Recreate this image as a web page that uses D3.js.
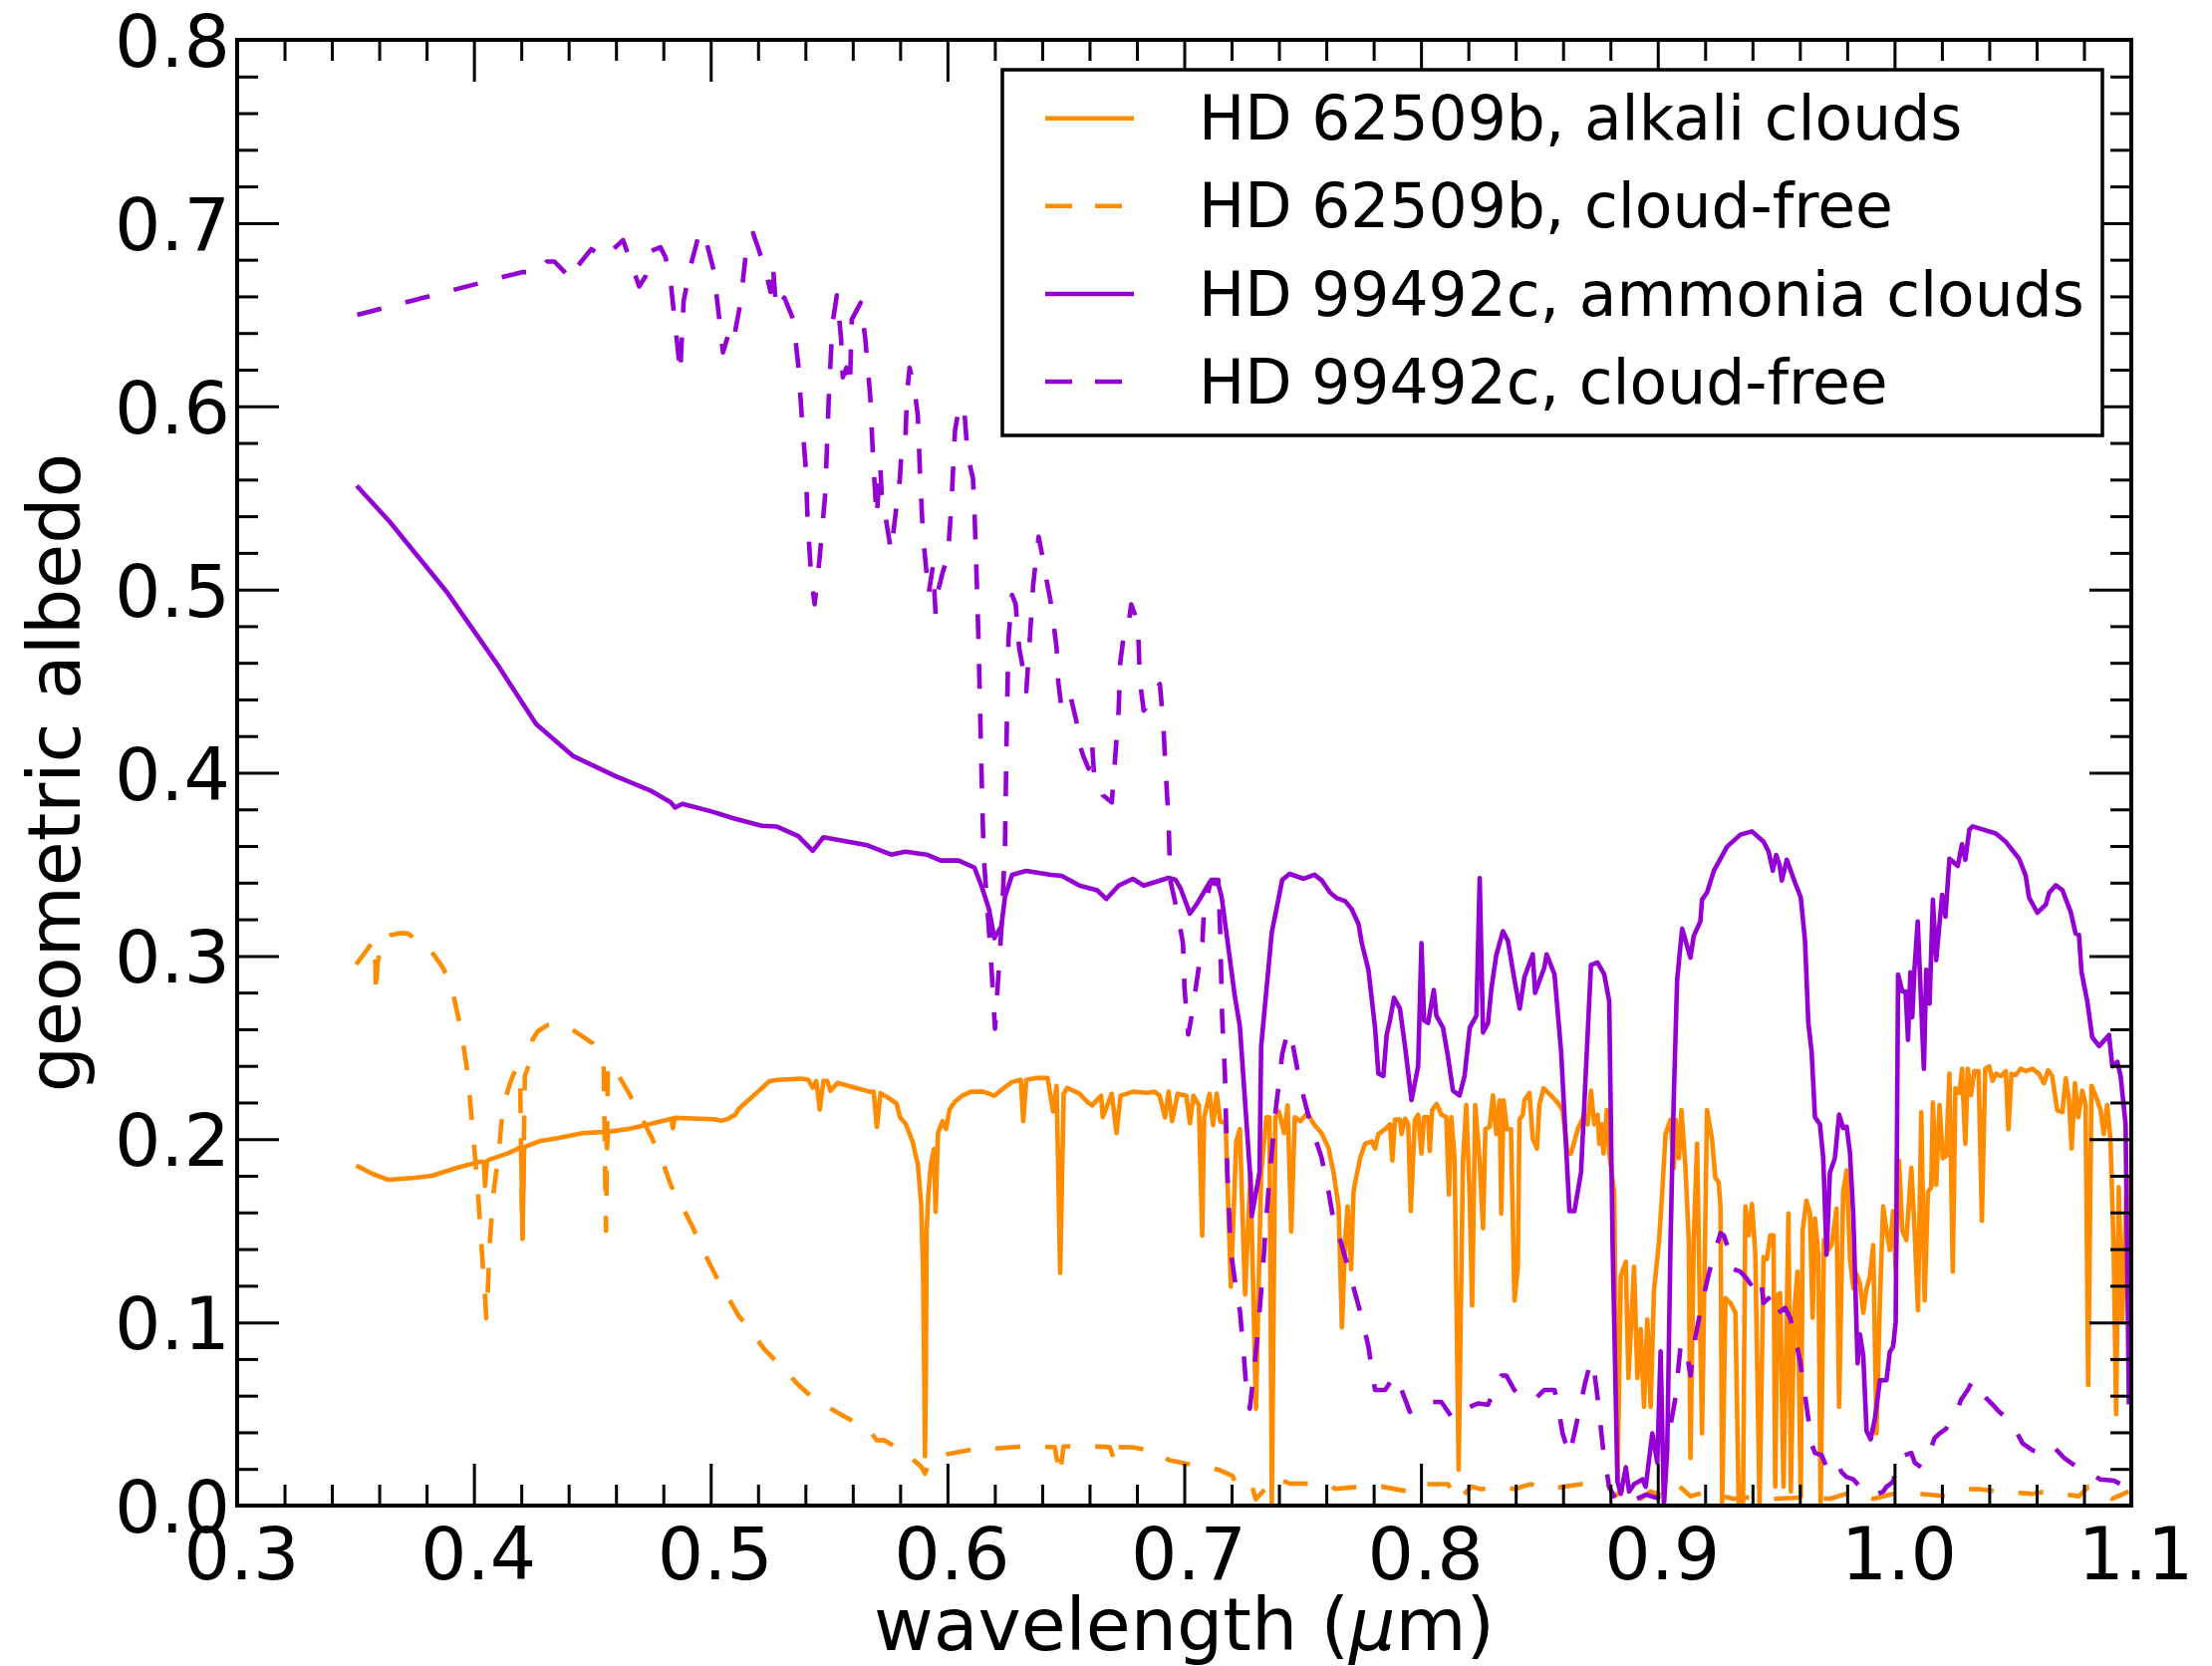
<!DOCTYPE html>
<html><head><meta charset="utf-8">
<script src="https://cdn.jsdelivr.net/npm/d3@7"></script>
<style>
body{margin:0;background:#fff}
svg{display:block}
text{font-family:"DejaVu Sans",sans-serif;fill:#000}
</style>
</head><body>
<svg id="chart" width="2220" height="1672"></svg>
<script>
// ---------------- data ----------------
const xTickLabels = [0.3,0.4,0.5,0.6,0.7,0.8,0.9,1.0,1.1];
const yTickLabels = [0.0,0.1,0.2,0.3,0.4,0.5,0.6,0.7,0.8];
const seriesLabels = ["HD 62509b, alkali clouds","HD 62509b, cloud-free","HD 99492c, ammonia clouds","HD 99492c, cloud-free"];
const seriesColors = ["#ff8c00","#ff8c00","#9400d3","#9400d3"];
const seriesDashed = [false,true,false,true];

// [wavelength (um), geometric albedo]
const hd62509bAlkali = [[0.3503,0.1856],[0.3571,0.1811],[0.3639,0.1778],[0.3752,0.1789],[0.3822,0.18],[0.3932,0.1845],[0.4029,0.1878],[0.4042,0.1875],[0.4047,0.1745],[0.4055,0.188],[0.4067,0.1889],[0.4142,0.1922],[0.42,0.1956],[0.4205,0.1456],[0.4212,0.1956],[0.4233,0.1967],[0.4277,0.1989],[0.4353,0.2006],[0.4458,0.2033],[0.4558,0.204],[0.4562,0.195],[0.4567,0.204],[0.4653,0.2056],[0.4728,0.2078],[0.4835,0.2112],[0.484,0.206],[0.4848,0.2116],[0.4923,0.2113],[0.5014,0.2109],[0.5044,0.21],[0.5074,0.2111],[0.5104,0.2133],[0.5119,0.2166],[0.5247,0.2315],[0.5281,0.2323],[0.5344,0.2328],[0.5386,0.233],[0.5413,0.2323],[0.5431,0.228],[0.5446,0.2318],[0.5461,0.2162],[0.5476,0.2318],[0.5492,0.2318],[0.5506,0.2264],[0.5536,0.2307],[0.5581,0.2291],[0.5672,0.2259],[0.5688,0.2259],[0.5702,0.2066],[0.5717,0.2251],[0.5762,0.2216],[0.5785,0.2194],[0.58,0.2118],[0.5822,0.2087],[0.5852,0.199],[0.5875,0.1861],[0.5889,0.1646],[0.5897,0.1281],[0.5902,0.0743],[0.5905,0.027],[0.5909,0.0743],[0.5912,0.1496],[0.592,0.1711],[0.593,0.186],[0.5943,0.1947],[0.595,0.1603],[0.596,0.2033],[0.5979,0.2098],[0.5994,0.2055],[0.6009,0.2162],[0.6032,0.2205],[0.6062,0.2237],[0.61,0.2259],[0.6152,0.2259],[0.6198,0.2237],[0.6228,0.2269],[0.6273,0.2312],[0.631,0.2323],[0.632,0.2098],[0.6333,0.2323],[0.6378,0.2334],[0.6423,0.2334],[0.6446,0.2151],[0.6461,0.229],[0.6476,0.127],[0.6491,0.2248],[0.6506,0.228],[0.6558,0.2248],[0.6589,0.2205],[0.6611,0.2184],[0.6649,0.2237],[0.6656,0.212],[0.6694,0.2248],[0.6714,0.2033],[0.6731,0.2237],[0.6783,0.2259],[0.6844,0.2253],[0.6874,0.2259],[0.6896,0.2237],[0.6919,0.2118],[0.6934,0.2259],[0.6949,0.2098],[0.6972,0.2248],[0.7009,0.2237],[0.7024,0.2087],[0.7039,0.2237],[0.7062,0.2184],[0.7076,0.1474],[0.7084,0.212],[0.7107,0.2248],[0.7122,0.2077],[0.7137,0.2248],[0.7152,0.2098],[0.7175,0.2087],[0.7197,0.1195],[0.722,0.199],[0.7235,0.2055],[0.7257,0.1152],[0.728,0.1818],[0.7303,0.0529],[0.7325,0.1818],[0.7347,0.212],[0.736,0.212],[0.737,0.0],[0.7385,0.2118],[0.74,0.215],[0.7422,0.2033],[0.7437,0.2184],[0.7452,0.1496],[0.7467,0.212],[0.749,0.2098],[0.752,0.2141],[0.755,0.2077],[0.758,0.2033],[0.761,0.1949],[0.7631,0.1817],[0.7652,0.1633],[0.7666,0.0973],[0.768,0.1449],[0.769,0.1633],[0.7705,0.129],[0.7715,0.1711],[0.7722,0.1764],[0.7743,0.1896],[0.7764,0.1975],[0.7792,0.1988],[0.7806,0.1949],[0.782,0.2028],[0.7848,0.2054],[0.7869,0.2081],[0.7879,0.1883],[0.789,0.2107],[0.7911,0.2107],[0.7918,0.2028],[0.7933,0.2112],[0.7946,0.2081],[0.7957,0.1607],[0.7974,0.2107],[0.7988,0.2133],[0.8002,0.1922],[0.8013,0.212],[0.803,0.212],[0.8037,0.1935],[0.8047,0.2159],[0.8066,0.2192],[0.8086,0.2133],[0.8107,0.212],[0.8118,0.1698],[0.8128,0.212],[0.8142,0.1896],[0.8159,0.0196],[0.8177,0.187],[0.8191,0.2186],[0.8205,0.1711],[0.8216,0.1092],[0.8229,0.2186],[0.8247,0.1896],[0.8262,0.1514],[0.8272,0.2054],[0.829,0.2068],[0.8304,0.2239],[0.8318,0.2028],[0.8332,0.2212],[0.8339,0.1594],[0.8349,0.2212],[0.8363,0.2054],[0.838,0.2054],[0.8395,0.1119],[0.8409,0.1304],[0.8416,0.2107],[0.843,0.2133],[0.8437,0.2212],[0.8458,0.2252],[0.8472,0.2001],[0.849,0.1949],[0.85,0.2186],[0.8518,0.2278],[0.8549,0.2239],[0.8577,0.2199],[0.8598,0.2159],[0.8619,0.1922],[0.8634,0.1922],[0.8662,0.2054],[0.869,0.2133],[0.8704,0.2081],[0.8718,0.2265],[0.8732,0.2081],[0.8746,0.2133],[0.8753,0.1975],[0.8763,0.2081],[0.8771,0.1922],[0.8785,0.2159],[0.8795,0.1922],[0.8816,0.1711],[0.883,0.0131],[0.8844,0.1252],[0.8865,0.1331],[0.8876,0.0697],[0.89,0.1304],[0.8914,0.0697],[0.8928,0.0963],[0.8942,0.0539],[0.8956,0.1016],[0.897,0.0539],[0.8984,0.1173],[0.9005,0.1436],[0.9019,0.1711],[0.9033,0.2028],[0.9054,0.2107],[0.9068,0.1843],[0.9075,0.2107],[0.9089,0.1896],[0.91,0.2159],[0.9117,0.1843],[0.9131,0.1449],[0.9138,0.026],[0.9152,0.1449],[0.9166,0.1975],[0.9187,0.0394],[0.9208,0.2159],[0.9229,0.2001],[0.9243,0.1791],[0.9257,0.1764],[0.9265,0.1633],[0.9272,0.0],[0.9286,0.1132],[0.9307,0.1106],[0.9328,0.1053],[0.9342,0.0],[0.936,0.0],[0.937,0.1633],[0.9384,0.1475],[0.9398,0.1646],[0.9412,0.1371],[0.943,0.0],[0.9447,0.1357],[0.9461,0.1345],[0.9475,0.1475],[0.9489,0.1475],[0.9496,0.0103],[0.9506,0.1147],[0.9517,0.116],[0.9531,0.0103],[0.9545,0.1053],[0.9552,0.1594],[0.9562,0.0077],[0.9576,0.1053],[0.959,0.1277],[0.9604,0.0051],[0.9612,0.1501],[0.9628,0.1664],[0.9643,0.1594],[0.9654,0.1026],[0.9664,0.1567],[0.9678,0.1371],[0.9688,0.0],[0.9702,0.1449],[0.972,0.1395],[0.9734,0.1422],[0.9755,0.162],[0.9766,0.0539],[0.9783,0.1711],[0.9798,0.183],[0.9812,0.1345],[0.9826,0.1186],[0.984,0.1264],[0.9854,0.1212],[0.9868,0.1053],[0.9882,0.1186],[0.9896,0.125],[0.991,0.1422],[0.9924,0.0394],[0.9938,0.1106],[0.9952,0.1633],[0.9966,0.1501],[0.998,0.1395],[0.9994,0.1607],[1.0005,0.129],[1.0019,0.1883],[1.0033,0.1501],[1.005,0.1449],[1.0071,0.1843],[1.0085,0.1501],[1.0099,0.1066],[1.0113,0.2147],[1.0127,0.1119],[1.0141,0.1711],[1.0155,0.1738],[1.0162,0.2199],[1.0176,0.1751],[1.019,0.2186],[1.0204,0.1896],[1.0218,0.1909],[1.0232,0.2357],[1.0246,0.1277],[1.0257,0.2278],[1.0274,0.2252],[1.0285,0.2384],[1.0299,0.1975],[1.0309,0.2384],[1.0323,0.2239],[1.0337,0.2371],[1.0355,0.2371],[1.0369,0.1554],[1.0383,0.2384],[1.04,0.2397],[1.0414,0.2318],[1.0428,0.2357],[1.0449,0.2344],[1.047,0.2371],[1.0481,0.2054],[1.0494,0.2357],[1.0512,0.235],[1.0533,0.2384],[1.0554,0.2371],[1.0582,0.2384],[1.061,0.2357],[1.0631,0.2305],[1.0649,0.2376],[1.0666,0.2344],[1.0687,0.2159],[1.0709,0.2147],[1.0723,0.2331],[1.0737,0.2212],[1.0748,0.1949],[1.0762,0.2305],[1.0776,0.212],[1.0793,0.2265],[1.0807,0.2186],[1.0818,0.0658],[1.0832,0.2291],[1.0849,0.2239],[1.087,0.2159],[1.0884,0.2028],[1.0898,0.2186],[1.0912,0.2001],[1.0926,0.1371],[1.0936,0.0499],[1.0947,0.1738],[1.0961,0.1001],[1.0982,0.1791],[1.0996,0.1395]];

const hd62509bCloudFree = [[0.3503,0.2954],[0.3541,0.3021],[0.3579,0.3087],[0.3584,0.2954],[0.3587,0.2788],[0.3592,0.2954],[0.3616,0.3099],[0.3646,0.3114],[0.3691,0.3125],[0.3721,0.3122],[0.3811,0.3043],[0.3871,0.2932],[0.3902,0.2832],[0.3917,0.2766],[0.3947,0.2589],[0.397,0.2389],[0.3984,0.2211],[0.3999,0.1989],[0.4014,0.1767],[0.4029,0.1478],[0.4037,0.1323],[0.4047,0.1145],[0.4052,0.1023],[0.406,0.1213],[0.4067,0.1434],[0.4082,0.17],[0.4105,0.1922],[0.412,0.2144],[0.4135,0.2233],[0.4157,0.2322],[0.4179,0.2389],[0.4195,0.2344],[0.4205,0.1456],[0.4215,0.2344],[0.4233,0.241],[0.4248,0.2544],[0.427,0.2589],[0.4308,0.2621],[0.4353,0.2628],[0.4413,0.26],[0.4465,0.2555],[0.4502,0.2522],[0.4548,0.241],[0.4558,0.15],[0.4566,0.241],[0.4607,0.2355],[0.4653,0.2255],[0.4698,0.2144],[0.475,0.2011],[0.4803,0.1856],[0.4833,0.1745],[0.4879,0.1634],[0.4923,0.1523],[0.4969,0.139],[0.5021,0.1256],[0.5059,0.1168],[0.5119,0.1034],[0.5164,0.0968],[0.5224,0.0857],[0.5292,0.0768],[0.5371,0.0658],[0.5446,0.0571],[0.5507,0.0529],[0.5581,0.0475],[0.5672,0.041],[0.5701,0.0356],[0.5731,0.0357],[0.5822,0.0292],[0.5857,0.0249],[0.5889,0.0212],[0.5905,0.0174],[0.5925,0.0239],[0.5947,0.0261],[0.6002,0.0281],[0.6093,0.0303],[0.6213,0.0313],[0.6333,0.0324],[0.6453,0.0319],[0.6475,0.0163],[0.649,0.0322],[0.6528,0.0324],[0.6611,0.0324],[0.6686,0.0319],[0.6709,0.0228],[0.672,0.0319],[0.6783,0.0318],[0.6889,0.0292],[0.6934,0.0249],[0.7009,0.0229],[0.7084,0.0212],[0.7144,0.0196],[0.7204,0.0163],[0.722,0.0109],[0.7284,0.012],[0.7302,0.0034],[0.7385,0.0152],[0.7445,0.012],[0.755,0.012],[0.762,0.0109],[0.7637,0.0091],[0.7749,0.0104],[0.7833,0.0104],[0.7946,0.0077],[0.7974,0.0117],[0.8114,0.0117],[0.8156,0.0024],[0.8212,0.0104],[0.8254,0.009],[0.8339,0.0104],[0.8394,0.009],[0.8464,0.0117],[0.8535,0.009],[0.8676,0.0117],[0.8788,0.0117],[0.8816,0.0051],[0.8858,0.009],[0.89,0.0011],[0.897,0.0077],[0.9026,0.0051],[0.9082,0.0117],[0.9138,0.0051],[0.9208,0.0077],[0.9237,0.0064],[0.932,0.0037],[0.9377,0.0045],[0.9489,0.0037],[0.9629,0.0045],[0.9727,0.0037],[0.9826,0.0077],[0.991,0.0037],[0.9994,0.0064],[1.0106,0.0064],[1.0218,0.0051],[1.0302,0.009],[1.0358,0.009],[1.0442,0.0077],[1.0582,0.0064],[1.0639,0.0077],[1.0779,0.0051],[1.0819,0.0103],[1.0919,0.0037],[1.099,0.0077]];

const hd99492cAmmonia = [[0.3505,0.5566],[0.3643,0.5372],[0.3887,0.4984],[0.4097,0.4595],[0.4263,0.4265],[0.442,0.409],[0.46,0.398],[0.475,0.39],[0.483,0.384],[0.485,0.381],[0.488,0.383],[0.5,0.379],[0.51,0.375],[0.5216,0.371],[0.528,0.3706],[0.537,0.3654],[0.5431,0.3574],[0.5476,0.3648],[0.5656,0.3606],[0.5762,0.3553],[0.5822,0.3569],[0.5912,0.3553],[0.5972,0.3521],[0.6047,0.3521],[0.6114,0.3482],[0.6145,0.3377],[0.6175,0.3258],[0.6198,0.3097],[0.6228,0.3162],[0.6243,0.3323],[0.6273,0.3443],[0.6333,0.3464],[0.6438,0.3443],[0.6483,0.3437],[0.6558,0.3384],[0.6633,0.3358],[0.6671,0.3311],[0.6723,0.3384],[0.6783,0.3421],[0.6829,0.3384],[0.6934,0.3426],[0.6964,0.3415],[0.6986,0.3364],[0.7024,0.3231],[0.7054,0.3285],[0.7108,0.3403],[0.7144,0.339],[0.7158,0.3323],[0.7213,0.2786],[0.7235,0.2616],[0.728,0.1775],[0.7285,0.158],[0.7318,0.1818],[0.7325,0.2507],[0.737,0.3129],[0.74,0.3323],[0.7414,0.3415],[0.7445,0.3448],[0.7505,0.3421],[0.755,0.3443],[0.7581,0.3412],[0.7616,0.3346],[0.7645,0.3315],[0.768,0.3299],[0.7708,0.3254],[0.7736,0.3175],[0.775,0.307],[0.7778,0.2924],[0.7806,0.2608],[0.782,0.2358],[0.7841,0.2345],[0.7855,0.2569],[0.7869,0.2648],[0.7886,0.2772],[0.7911,0.2713],[0.7933,0.2503],[0.796,0.2213],[0.7988,0.2398],[0.8002,0.307],[0.8013,0.2648],[0.803,0.2634],[0.8054,0.2814],[0.8065,0.2674],[0.8093,0.2608],[0.8114,0.245],[0.8135,0.2265],[0.8163,0.2239],[0.8184,0.2344],[0.8206,0.2608],[0.8234,0.2674],[0.8248,0.3425],[0.8262,0.2582],[0.8283,0.2634],[0.8297,0.2819],[0.8318,0.3004],[0.8346,0.3135],[0.8367,0.3083],[0.8391,0.2899],[0.84,0.2833],[0.8417,0.2713],[0.8437,0.2885],[0.8472,0.3009],[0.8482,0.2798],[0.8521,0.2937],[0.8531,0.3009],[0.8564,0.2899],[0.8592,0.2476],[0.8627,0.1607],[0.8648,0.1607],[0.8676,0.1818],[0.8718,0.2951],[0.8746,0.2964],[0.8774,0.2899],[0.8795,0.2753],[0.8809,0.1448],[0.883,0.0131],[0.8844,0.0064],[0.8865,0.0209],[0.8879,0.0077],[0.89,0.0117],[0.8935,0.0143],[0.8949,0.0103],[0.8977,0.0394],[0.8998,0.0235],[0.9012,0.0842],[0.9026,0.0],[0.904,0.03],[0.9054,0.1448],[0.9068,0.224],[0.9082,0.2872],[0.9103,0.3149],[0.9138,0.2991],[0.9152,0.3109],[0.918,0.3188],[0.9187,0.3307],[0.9208,0.3345],[0.9237,0.3465],[0.9293,0.3597],[0.9349,0.3662],[0.9398,0.368],[0.9447,0.3623],[0.9468,0.357],[0.9486,0.3465],[0.95,0.3551],[0.9514,0.35],[0.9524,0.3412],[0.9545,0.3525],[0.958,0.3399],[0.9604,0.332],[0.9622,0.3083],[0.9636,0.2634],[0.965,0.2476],[0.9664,0.212],[0.9685,0.2081],[0.9699,0.1896],[0.9713,0.1369],[0.9727,0.1817],[0.9748,0.1896],[0.9766,0.2134],[0.9783,0.2061],[0.9798,0.2068],[0.9812,0.1922],[0.9826,0.158],[0.9844,0.0776],[0.9854,0.0934],[0.9868,0.0816],[0.9882,0.0407],[0.9899,0.0362],[0.9917,0.0473],[0.9938,0.0684],[0.9966,0.0684],[0.998,0.0838],[0.9994,0.0868],[1.0005,0.1001],[1.0015,0.2898],[1.0033,0.2806],[1.0047,0.2806],[1.0057,0.2542],[1.0067,0.2911],[1.0075,0.2665],[1.0084,0.2924],[1.0098,0.3188],[1.0124,0.2384],[1.0134,0.2924],[1.0148,0.274],[1.0162,0.3307],[1.0176,0.2977],[1.0201,0.3333],[1.0215,0.3214],[1.0232,0.3531],[1.0267,0.3491],[1.0285,0.361],[1.0299,0.3525],[1.0316,0.3689],[1.033,0.3707],[1.0428,0.3668],[1.047,0.3623],[1.0526,0.3531],[1.0554,0.3438],[1.0568,0.332],[1.0603,0.3236],[1.0639,0.328],[1.0653,0.3345],[1.0681,0.3386],[1.0709,0.3359],[1.0744,0.3241],[1.0765,0.3122],[1.0779,0.3115],[1.079,0.2911],[1.0814,0.2753],[1.0835,0.2556],[1.0864,0.2508],[1.0906,0.2568],[1.092,0.2397],[1.0941,0.2422],[1.0955,0.2344],[1.0976,0.2081],[1.099,0.0552]];

const hd99492cCloudFree = [[0.3507,0.6499],[0.4202,0.6732],[0.4278,0.6732],[0.4308,0.679],[0.434,0.679],[0.4413,0.6693],[0.4435,0.676],[0.4496,0.6858],[0.4548,0.6809],[0.463,0.6907],[0.4698,0.6654],[0.4725,0.671],[0.475,0.6848],[0.4788,0.6868],[0.481,0.681],[0.4833,0.6654],[0.4864,0.6276],[0.4871,0.6178],[0.4886,0.6576],[0.4916,0.677],[0.4954,0.6956],[0.498,0.6907],[0.5013,0.6741],[0.5037,0.647],[0.5052,0.6294],[0.5072,0.638],[0.5092,0.633],[0.5126,0.6566],[0.5149,0.6838],[0.5179,0.6945],[0.5205,0.6848],[0.5239,0.6702],[0.5253,0.6624],[0.5262,0.678],[0.5277,0.6527],[0.5299,0.6566],[0.5311,0.6593],[0.5349,0.6474],[0.5371,0.6211],[0.5386,0.592],[0.5402,0.5657],[0.5409,0.5393],[0.5424,0.5077],[0.5439,0.4919],[0.5461,0.5183],[0.5484,0.5526],[0.5499,0.6053],[0.5514,0.6448],[0.5533,0.6606],[0.5551,0.6368],[0.5558,0.6158],[0.5573,0.6211],[0.5588,0.6105],[0.5596,0.6474],[0.5634,0.6566],[0.5653,0.6368],[0.5674,0.6053],[0.5686,0.571],[0.5701,0.5393],[0.5716,0.5683],[0.5722,0.5525],[0.5739,0.5393],[0.5762,0.5209],[0.5784,0.5446],[0.5799,0.5604],[0.5807,0.5776],[0.5822,0.5815],[0.583,0.6079],[0.584,0.6211],[0.586,0.6105],[0.5875,0.5947],[0.5885,0.5604],[0.5897,0.5288],[0.5905,0.5183],[0.592,0.4971],[0.5939,0.513],[0.595,0.4866],[0.5956,0.497],[0.5979,0.509],[0.6002,0.5183],[0.6017,0.5472],[0.6032,0.5868],[0.605,0.6],[0.607,0.6],[0.6085,0.5736],[0.6108,0.5604],[0.6115,0.5393],[0.6123,0.5077],[0.6131,0.4734],[0.6138,0.4339],[0.6145,0.3943],[0.6153,0.3548],[0.6183,0.3],[0.6201,0.2603],[0.6213,0.285],[0.6228,0.3151],[0.6243,0.36],[0.625,0.4207],[0.6258,0.4734],[0.6273,0.4971],[0.6288,0.492],[0.6303,0.4682],[0.6318,0.4576],[0.6333,0.4444],[0.6348,0.4734],[0.6362,0.5024],[0.6385,0.5288],[0.6401,0.5183],[0.6415,0.5077],[0.6438,0.4919],[0.6461,0.4682],[0.6468,0.4497],[0.6483,0.4339],[0.6498,0.4392],[0.6522,0.4405],[0.6544,0.4286],[0.6558,0.4155],[0.6574,0.409],[0.6596,0.4022],[0.6611,0.4155],[0.6619,0.3996],[0.6641,0.397],[0.6656,0.3878],[0.6694,0.3838],[0.6708,0.4075],[0.6723,0.434],[0.673,0.4603],[0.6746,0.4761],[0.6761,0.4774],[0.6776,0.4919],[0.6791,0.4866],[0.6806,0.4761],[0.6813,0.4497],[0.6829,0.4339],[0.6844,0.4366],[0.6874,0.4444],[0.6897,0.4484],[0.6911,0.4286],[0.6919,0.4075],[0.6934,0.3733],[0.6941,0.3415],[0.6964,0.328],[0.6987,0.3126],[0.6995,0.3066],[0.7001,0.2828],[0.7017,0.2571],[0.7032,0.2678],[0.7054,0.2871],[0.7077,0.3081],[0.7084,0.3258],[0.7114,0.3415],[0.7144,0.3415],[0.7152,0.3129],[0.716,0.2678],[0.7172,0.2355],[0.7182,0.1818],[0.7197,0.1388],[0.722,0.1173],[0.7235,0.1066],[0.725,0.0851],[0.7265,0.0593],[0.7277,0.0529],[0.7295,0.0743],[0.7312,0.0958],[0.7332,0.1281],[0.7345,0.1539],[0.7362,0.1818],[0.7385,0.2141],[0.7414,0.2464],[0.7438,0.2592],[0.746,0.2506],[0.7482,0.2355],[0.7505,0.2227],[0.7535,0.2077],[0.758,0.19],[0.761,0.1711],[0.7631,0.1554],[0.7652,0.148],[0.7694,0.129],[0.7722,0.1158],[0.775,0.1026],[0.7778,0.0868],[0.7806,0.0631],[0.7848,0.0631],[0.789,0.071],[0.7918,0.0631],[0.7953,0.0512],[0.7974,0.0538],[0.8002,0.0566],[0.8086,0.0566],[0.8135,0.0473],[0.817,0.05],[0.8205,0.0538],[0.824,0.0557],[0.8283,0.0551],[0.8339,0.071],[0.836,0.071],[0.8394,0.0631],[0.8429,0.0591],[0.8451,0.0578],[0.8479,0.0578],[0.8521,0.0631],[0.8564,0.0631],[0.8578,0.0551],[0.8598,0.0394],[0.8627,0.0275],[0.8648,0.0394],[0.8691,0.0657],[0.8712,0.0763],[0.8726,0.0789],[0.8745,0.06],[0.877,0.03],[0.8795,0.01],[0.882,0.004],[0.886,0.006],[0.89,0.003],[0.895,0.006],[0.9,0.004],[0.902,0.01],[0.904,0.034],[0.9075,0.059],[0.9096,0.0868],[0.9117,0.0881],[0.9138,0.071],[0.9159,0.092],[0.9187,0.1106],[0.9215,0.1263],[0.9237,0.1369],[0.9265,0.1487],[0.9279,0.1474],[0.93,0.1395],[0.9321,0.129],[0.9349,0.1277],[0.9377,0.1237],[0.9391,0.121],[0.9433,0.1263],[0.9447,0.1106],[0.9468,0.1132],[0.9489,0.1026],[0.951,0.1053],[0.9538,0.1079],[0.9559,0.1026],[0.958,0.0921],[0.9601,0.0789],[0.9622,0.0605],[0.9636,0.0473],[0.9648,0.0341],[0.9664,0.0288],[0.9692,0.0275],[0.9713,0.0209],[0.9727,0.0235],[0.9755,0.0248],[0.9776,0.0183],[0.9798,0.0156],[0.9826,0.0143],[0.9854,0.0103],[0.9882,0.0077],[0.9906,0.0051],[0.9952,0.0077],[0.9966,0.0103],[0.9994,0.013],[1.0015,0.0248],[1.0043,0.0275],[1.0071,0.0288],[1.0085,0.0235],[1.0113,0.0209],[1.0148,0.0288],[1.0169,0.0368],[1.019,0.0394],[1.0218,0.042],[1.0246,0.0499],[1.0267,0.0526],[1.0281,0.0578],[1.0309,0.0631],[1.033,0.0684],[1.0351,0.0644],[1.0372,0.0605],[1.0414,0.0552],[1.0442,0.0512],[1.0477,0.0473],[1.0498,0.0447],[1.054,0.0341],[1.0582,0.0302],[1.0624,0.0288],[1.0666,0.0328],[1.0716,0.0261],[1.0744,0.0235],[1.0772,0.0209],[1.0814,0.0183],[1.087,0.0143],[1.0927,0.0136],[1.0955,0.0117],[1.0976,0.0064],[1.099,0.0011]];

const allSeries = [hd62509bAlkali, hd62509bCloudFree, hd99492cAmmonia, hd99492cCloudFree];

// ---------------- layout ----------------
const PL = 238, PR = 2139, PT = 40, PB = 1511;
const svg = d3.select("#chart");
const x = d3.scaleLinear().domain([0.3, 1.1]).range([PL, PR]);
const y = d3.scaleLinear().domain([0.0, 0.8]).range([PB, PT]);

const FONT = "DejaVu Sans";
const LW = 4.6;
const xMinor = d3.range(0.3, 1.1001, 0.02).filter(v => Math.abs(v*10 - Math.round(v*10)) > 1e-6);
const yMinor = d3.range(0, 0.8001, 0.02).filter(v => Math.abs(v*10 - Math.round(v*10)) > 1e-6);

svg.append("defs").append("clipPath").attr("id","plotclip")
  .append("rect").attr("x",PL).attr("y",PT).attr("width",PR-PL).attr("height",PB-PT);

// ---------------- series ----------------
const line = d3.line().x(d => x(d[0])).y(d => y(d[1]));
const gLines = svg.append("g").attr("clip-path","url(#plotclip)");
allSeries.forEach((s, i) => {
  gLines.append("path")
    .attr("d", line(s))
    .attr("fill","none")
    .attr("stroke", seriesColors[i])
    .attr("stroke-width", LW)
    .attr("stroke-linejoin","round")
    .attr("stroke-linecap","butt")
    .attr("stroke-dasharray", seriesDashed[i] ? "25,25" : null);
});

// ---------------- axes ----------------
function styleAxis(g){
  g.select(".domain").remove();
  g.selectAll(".tick line").attr("stroke","#000").attr("stroke-width",3);
  g.attr("font-family", FONT).attr("font-size", 73);
}
// bottom
svg.append("g").attr("transform",`translate(0,${PB})`)
  .call(d3.axisBottom(x).tickValues(xTickLabels).tickSize(-42).tickFormat(d3.format(".1f")))
  .call(styleAxis)
  .call(g => g.selectAll(".tick text").attr("y", 74).attr("dy", null).attr("dx", 4).attr("fill","#000"));
svg.append("g").attr("transform",`translate(0,${PB})`)
  .call(d3.axisBottom(x).tickValues(xMinor).tickSize(-21).tickFormat(""))
  .call(styleAxis);
// top
svg.append("g").attr("transform",`translate(0,${PT})`)
  .call(d3.axisTop(x).tickValues(xTickLabels).tickSize(-42).tickFormat(""))
  .call(styleAxis);
svg.append("g").attr("transform",`translate(0,${PT})`)
  .call(d3.axisTop(x).tickValues(xMinor).tickSize(-21).tickFormat(""))
  .call(styleAxis);
// left
svg.append("g").attr("transform",`translate(${PL},0)`)
  .call(d3.axisLeft(y).tickValues(yTickLabels).tickSize(-42).tickFormat(d3.format(".1f")))
  .call(styleAxis)
  .call(g => g.selectAll(".tick text").attr("x", -7).attr("dy", "0.363em").attr("fill","#000"));
svg.append("g").attr("transform",`translate(${PL},0)`)
  .call(d3.axisLeft(y).tickValues(yMinor).tickSize(-21).tickFormat(""))
  .call(styleAxis);
// right
svg.append("g").attr("transform",`translate(${PR},0)`)
  .call(d3.axisRight(y).tickValues(yTickLabels).tickSize(-42).tickFormat(""))
  .call(styleAxis);
svg.append("g").attr("transform",`translate(${PR},0)`)
  .call(d3.axisRight(y).tickValues(yMinor).tickSize(-21).tickFormat(""))
  .call(styleAxis);

// frame
svg.append("rect").attr("x",PL).attr("y",PT).attr("width",PR-PL).attr("height",PB-PT)
  .attr("fill","none").attr("stroke","#000").attr("stroke-width",4);

// axis labels
const xl = svg.append("text").attr("x", (PL+PR)/2).attr("y", 1656)
  .attr("text-anchor","middle").attr("font-size",73).attr("font-family",FONT);
xl.append("tspan").text("wavelength (");
xl.append("tspan").attr("font-style","italic").text("\u03bc");
xl.append("tspan").text("m)");

svg.append("text").attr("transform",`translate(80,${(PT+PB)/2}) rotate(-90)`)
  .attr("text-anchor","middle").attr("font-size",73).attr("font-family",FONT)
  .text("geometric albedo");

// ---------------- legend ----------------
const lg = svg.append("g");
lg.append("rect").attr("x",1006).attr("y",70).attr("width",2110-1006).attr("height",437-70)
  .attr("fill","#fff").attr("stroke","#000").attr("stroke-width",3.5);
const rowY = [118.7, 206.7, 295, 383];
seriesLabels.forEach((lab, i) => {
  lg.append("line").attr("x1",1049).attr("x2",1138).attr("y1",rowY[i]).attr("y2",rowY[i])
    .attr("stroke",seriesColors[i]).attr("stroke-width",LW)
    .attr("stroke-dasharray", seriesDashed[i] ? "27,23" : null);
  lg.append("text").attr("x",1203).attr("y",rowY[i]+21.5)
    .attr("font-size",61.5).attr("font-family",FONT).text(lab);
});
</script>
</body></html>
